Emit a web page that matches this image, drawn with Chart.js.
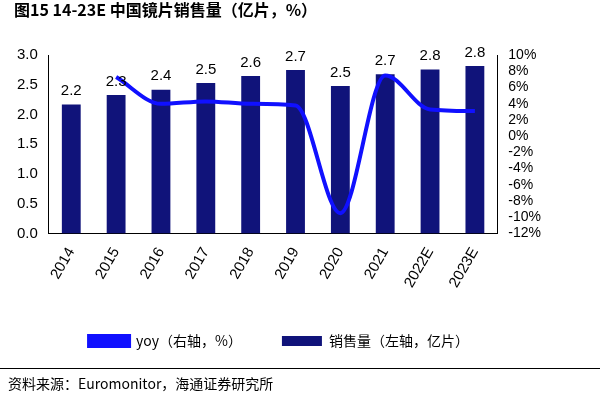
<!DOCTYPE html>
<html><head><meta charset="utf-8">
<script src="https://cdn.jsdelivr.net/npm/chart.js@4"></script>
<style>body{margin:0;background:#fff}#wrap{width:600px;height:400px}</style>
</head><body><div id="wrap"><canvas id="c"></canvas></div>
<script>
const years = ['2014','2015','2016','2017','2018','2019','2020','2021','2022E','2023E'];
const sales = [2.17, 2.33, 2.42, 2.53, 2.65, 2.75, 2.48, 2.68, 2.76, 2.82];
const salesLabels = ['2.2','2.3','2.4','2.5','2.6','2.7','2.5','2.7','2.8','2.8'];
const yoy = [null, 7.3, 4.0, 4.3, 4.0, 3.8, -9.5, 7.5, 3.3, 3.1];

const font = "'Liberation Sans', Arial, sans-serif";

const extras = {
  id: 'extras',
  afterDatasetsDraw(chart) {
    const ctx = chart.ctx;
    const meta = chart.getDatasetMeta(0);
    ctx.save();
    ctx.fillStyle = '#000';
    ctx.font = '15px ' + font;
    ctx.textAlign = 'center';
    ctx.textBaseline = 'bottom';
    meta.data.forEach((bar, i) => ctx.fillText(salesLabels[i], bar.x, bar.y - 6));
    ctx.restore();
  },
  afterDraw(chart) {
    const ctx = chart.ctx;
    ctx.save();
    ctx.strokeStyle = '#000';
    ctx.lineWidth = 1;
    ctx.beginPath(); ctx.moveTo(0, 368.5); ctx.lineTo(600, 368.5); ctx.stroke();
    ctx.fillStyle = '#000';
    ctx.font = "14px 'Noto Sans CJK SC', " + font;
    ctx.textBaseline = 'middle';
    ctx.fillText('资料来源：Euromonitor，海通证券研究所', 8, 384);
    ctx.restore();
  }
};

new Chart(document.getElementById('c'), {
  data: {
    labels: years,
    datasets: [
      {
        type: 'bar',
        label: '销售量（左轴，亿片）',
        data: sales,
        backgroundColor: '#10137a',
        borderWidth: 0,
        yAxisID: 'y',
        barPercentage: 0.42,
        categoryPercentage: 1,
        order: 2
      },
      {
        type: 'line',
        label: 'yoy（右轴，%）',
        data: yoy,
        borderColor: '#1010ff',
        backgroundColor: '#1010ff',
        borderWidth: 4,
        cubicInterpolationMode: 'monotone',
        pointRadius: 0,
        yAxisID: 'y1',
        order: 1
      }
    ]
  },
  plugins: [extras],
  options: {
    responsive: true,
    maintainAspectRatio: false,
    animation: false,
    layout: { padding: { left: 14, right: 56, top: 0, bottom: 42 } },
    plugins: {
      title: {
        display: true,
        text: '图15 14-23E 中国镜片销售量（亿片，%）',
        align: 'start',
        color: '#000',
        font: { family: "'Noto Sans CJK SC', " + font, size: 16, weight: 'bold' },
        padding: { top: 0, bottom: 36 }
      },
      legend: {
        position: 'bottom',
        labels: {
          color: '#000',
          font: { family: "'Noto Sans CJK SC', " + font, size: 14 },
          boxWidth: 40, boxHeight: 10, padding: 40,
          sort: (a, b) => b.datasetIndex - a.datasetIndex
        }
      },
      tooltip: { enabled: false }
    },
    scales: {
      x: {
        grid: { display: false },
        border: { color: '#000' },
        ticks: { color: '#000', font: { family: font, size: 15 }, maxRotation: 60, minRotation: 60 }
      },
      y: {
        position: 'left',
        min: 0, max: 3,
        grid: { display: false },
        border: { color: '#000' },
        ticks: { color: '#000', stepSize: 0.5, font: { family: font, size: 15 }, callback: v => v.toFixed(1) }
      },
      y1: {
        position: 'right',
        min: -12, max: 10,
        grid: { display: false },
        border: { color: '#000' },
        ticks: { color: '#000', stepSize: 2, autoSkip: false, font: { family: font, size: 14 }, callback: v => v + '%' }
      }
    }
  }
});
</script></body></html>
